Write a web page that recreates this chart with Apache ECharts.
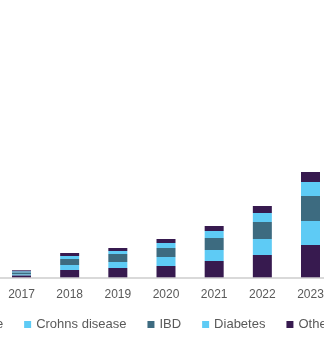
<!DOCTYPE html>
<html>
<head>
<meta charset="utf-8">
<script src="https://cdn.jsdelivr.net/npm/echarts@6/dist/echarts.min.js"></script>
<style>
html,body{margin:0;padding:0;background:#fff;overflow:hidden;width:324px;height:361px;}
#chart{position:absolute;left:-100px;top:0;width:524px;height:361px;}
</style>
</head>
<body>
<div id="chart"></div>
<script>
var years = ['2017','2018','2019','2020','2021','2022','2023'];
var others = [2, 7.3, 9.3, 11.3, 16.3, 22.3, 32.3];
var diabetes = [1, 5, 6, 9, 11, 16, 24];
var ibd = [2, 6, 8, 9, 12, 17, 25];
var crohns = [1, 3, 3, 5, 7, 9, 14];
var cdiff = [1, 3, 3, 4, 5, 7, 10];
var seriesNames = ['Clostridium difficile','Crohns disease','IBD','Diabetes','Others'];

var dark = '#371a4f', light = '#5ecbf5', teal = '#3d6b80';
var chart = echarts.init(document.getElementById('chart'));
function bar(name, data, color){
  return {name:name, type:'bar', stack:'total', data:data, barWidth:19,
    itemStyle:{color:color}, emphasis:{disabled:true}};
}
chart.setOption({
  animation:false,
  grid:{left:97.4, right:89.4, top:77.3, bottom:83.7, containLabel:false},
  legend:{
    data:seriesNames,
    left:-22, top:313,
    itemWidth:7, itemHeight:7, itemGap:21,
    icon:'rect',
    textStyle:{fontFamily:'Liberation Sans, Arial', fontSize:13, color:'#595959'}
  },
  xAxis:{type:'category', data:years,
    axisLine:{lineStyle:{color:'#d9d9d9', width:2}},
    axisTick:{show:false},
    axisLabel:{fontFamily:'Liberation Sans, Arial', fontSize:12, color:'#595959', margin:11}
  },
  yAxis:{type:'value', min:0, max:200, show:false, splitLine:{show:false}},
  series:[
    bar('Others', others, dark),
    bar('Diabetes', diabetes, light),
    bar('IBD', ibd, teal),
    bar('Crohns disease', crohns, light),
    bar('Clostridium difficile', cdiff, dark)
  ]
});
</script>
</body>
</html>
